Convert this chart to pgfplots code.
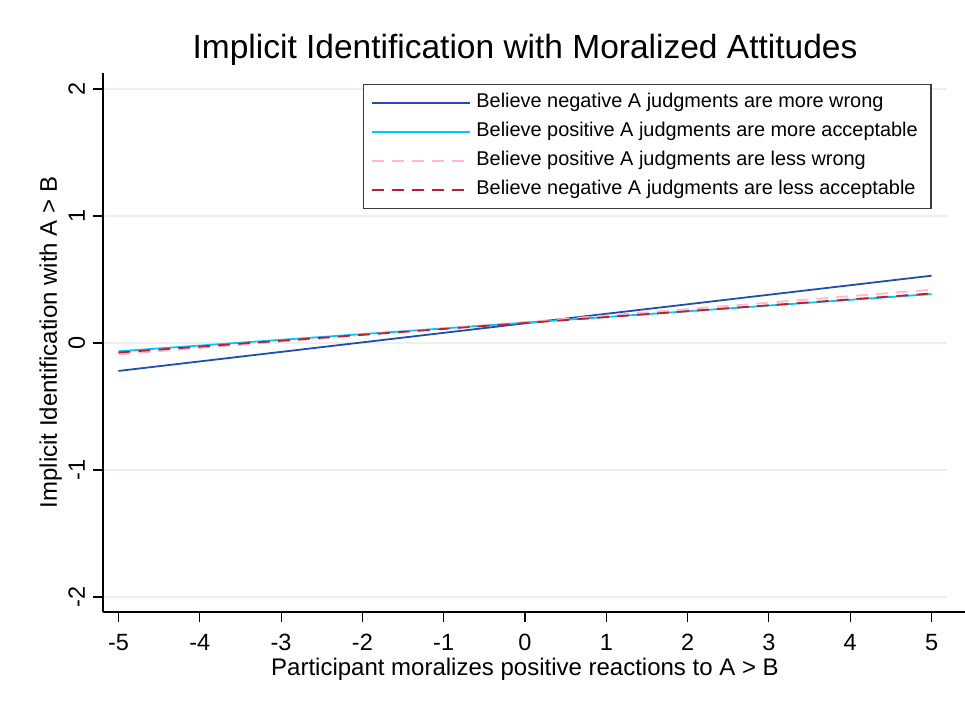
\documentclass[border=0pt]{standalone}
\usepackage{fontspec}
\setmainfont{Liberation Sans}
\usepackage{pgfplots}
\pgfplotsset{compat=1.18}

\definecolor{lineblue}{RGB}{30,78,178}
\definecolor{linecyan}{RGB}{0,200,255}
\definecolor{linepink}{RGB}{255,184,204}
\definecolor{linered}{RGB}{192,32,44}
\definecolor{gridcol}{RGB}{232,240,242}
\definecolor{legframe}{RGB}{60,60,60}

\begin{document}
\begin{tikzpicture}
\useasboundingbox (-103pt,-94pt) rectangle (862pt,612pt);
\begin{axis}[
  scale only axis,
  width=844pt, height=539pt,
  xmin=-5.19, xmax=5.19,
  ymin=-2.118, ymax=2.126,
  axis x line*=bottom, axis y line*=left,
  axis line style={line width=1.1pt, black},
  x axis line style={shorten >=-18pt},
  xtick={-5,-4,-3,-2,-1,0,1,2,3,4,5},
  xticklabels={-5,-4,-3,-2,-1,0,1,2,3,4,5},
  ytick={-2,-1,0,1,2},
  yticklabels={-2,-1,0,1,2},
  tick align=outside,
  major tick length=10pt,
  tick style={line width=1.1pt, black},
  ymajorgrids,
  major grid style={line width=1.5pt, gridcol},
  tick label style={font=\fontsize{23.5}{27}\selectfont},
  xticklabel style={anchor=base, yshift=-28pt},
  yticklabel style={xshift=-8pt, rotate=90, anchor=base},
  title={Implicit Identification with Moralized Attitudes},
  title style={font=\fontsize{33.5}{38}\selectfont, at={(axis description cs:0.5,1)}, anchor=base, yshift=8pt},
  xlabel={Participant moralizes positive reactions to A > B},
  xlabel style={font=\fontsize{24}{28}\selectfont, at={(axis description cs:0.5,0)}, anchor=base, yshift=-63pt},
  ylabel={Implicit Identification with A > B},
  ylabel style={font=\fontsize{24}{28}\selectfont, at={(axis description cs:-0.0545,0.5)}, anchor=base, rotate=0},
  legend cell align=left,
  legend style={
    at={(axis description cs:0.308,0.98)}, anchor=north west,
    draw=legframe, line width=1.4pt,
    font=\fontsize{19.9}{23}\selectfont,
    inner xsep=7pt, inner ysep=4pt,
    nodes={text height=14pt, text depth=4pt, inner ysep=5.5pt, inner xsep=6pt},
  },
  legend image code/.code={\draw[#1] (0pt,0pt) -- (92pt,0pt); \path (0pt,0pt) -- (98pt,0pt);},
  clip=false,
]
\addplot[lineblue, line width=1.8pt] coordinates {(-5,-0.22) (5,0.53)};
\addlegendentry{Believe negative A judgments are more wrong}
\addplot[linecyan, line width=1.8pt] coordinates {(-5,-0.065) (5,0.385)};
\addlegendentry{Believe positive A judgments are more acceptable}
\addplot[linepink, line width=1.8pt, dash pattern=on 12pt off 8pt] coordinates {(-5,-0.09) (5,0.42)};
\addlegendentry{Believe positive A judgments are less wrong}
\addplot[linered, line width=1.8pt, dash pattern=on 12pt off 8pt] coordinates {(-5,-0.075) (5,0.39)};
\addlegendentry{Believe negative A judgments are less acceptable}
\end{axis}
\end{tikzpicture}
\end{document}
